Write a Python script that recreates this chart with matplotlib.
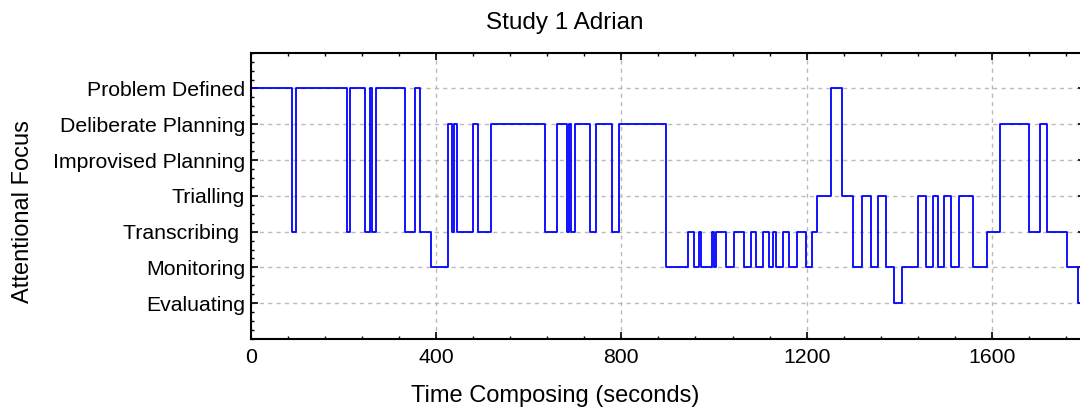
import matplotlib
matplotlib.use("Agg")
import matplotlib.pyplot as plt
from matplotlib.ticker import MultipleLocator

plt.rcParams['font.family'] = ['Liberation Sans', 'DejaVu Sans']

categories = ["Evaluating", "Monitoring", "Transcribing ", "Trialling",
              "Improvised Planning", "Deliberate Planning", "Problem Defined"]

# time (s) at which each attentional state begins; last entry is end of session
change_times = [0, 89.9, 97.8, 207.2, 215.1, 247.5, 257.5, 262.6, 270.5, 333.8,
                355.4, 366.2, 389.2, 424.8, 435.2, 439.5, 446.0, 480.5, 489.9, 518.7,
                635.9, 661.8, 683.4, 687.7, 691.3, 699.3, 732.4, 744.6, 779.1, 795.7,
                896.4, 944.6, 956.8, 967.6, 971.9, 995.0, 1000.7, 1004.3, 1025.9, 1043.2,
                1064.8, 1079.2, 1090.6, 1105.1, 1119.4, 1128.0, 1133.2, 1148.3, 1162.6, 1178.5,
                1198.6, 1210.9, 1221.7, 1252.6, 1277.0, 1300.7, 1320.2, 1338.2, 1354.7, 1371.3,
                1388.5, 1406.5, 1439.6, 1456.9, 1472.0, 1484.2, 1497.2, 1510.8, 1528.8, 1559.8,
                1588.5, 1617.3, 1679.9, 1703.7, 1718.0, 1761.2, 1784.9, 1790.0]

# state index (1 = Evaluating ... 7 = Problem Defined)
states = [7, 3, 7, 3, 7, 3, 7, 3, 7, 3,
          7, 3, 2, 6, 3, 6, 3, 6, 3, 6,
          3, 6, 3, 6, 3, 6, 3, 6, 3, 6,
          2, 3, 2, 3, 2, 3, 2, 3, 2, 3,
          2, 3, 2, 3, 2, 3, 2, 3, 2, 3,
          2, 3, 4, 7, 4, 2, 4, 2, 4, 2,
          1, 2, 4, 2, 4, 2, 4, 2, 4, 2,
          3, 6, 3, 6, 3, 2, 1, 1]

x_ticks = [0, 400, 800, 1200, 1600]

W, H = 1080, 416
ax_l, ax_r, ax_t, ax_b = 250.7, 1084.6, 52.7, 339.0

fig = plt.figure(figsize=(W / 100, H / 100), dpi=100)
ax = fig.add_axes([ax_l / W, (H - ax_b) / H, (ax_r - ax_l) / W, (ax_b - ax_t) / H])

ax.step(change_times, states, where='post', color='#0000FF', linewidth=1.3)

ax.set_xlim(0, 1800)
ax.set_ylim(0, 8)
ax.set_xticks(x_ticks)
ax.set_xticklabels([str(t) for t in x_ticks])
ax.xaxis.set_minor_locator(MultipleLocator(80))
ax.set_yticks(range(1, 8))
ax.set_yticklabels(categories)
ax.yaxis.set_minor_locator(MultipleLocator(0.25))

ax.tick_params(which='both', direction='in', top=True, right=True, colors='black',
               labelsize=15.3)
ax.tick_params(which='major', length=5, width=1.2)
ax.tick_params(which='minor', length=2.5, width=1.0)
ax.tick_params(axis='x', which='major', pad=6.5)
ax.tick_params(axis='y', which='major', pad=4)

ax.grid(True, which='major', color='#BBBBBB', linestyle=(0, (3, 3)), linewidth=1.0)

for s in ax.spines.values():
    s.set_linewidth(1.5)
    s.set_color('black')


def ax_x(px):
    return (px - ax_l) / (ax_r - ax_l)


def ax_y(py):
    return (ax_b - py) / (ax_b - ax_t)


ax.set_title("Study 1 Adrian", fontsize=17.5, x=ax_x(565), y=ax_y(23), va='center', pad=0)
ax.set_xlabel("Time Composing (seconds)", fontsize=17)
ax.xaxis.set_label_coords(ax_x(555), ax_y(396))
ax.xaxis.label.set_va('center')
ax.set_ylabel("Attentional Focus", fontsize=17)
ax.yaxis.set_label_coords(ax_x(23), ax_y(212))
ax.yaxis.label.set_va('center')
ax.yaxis.label.set_rotation_mode('anchor')

fig.savefig("out.png", dpi=100)
